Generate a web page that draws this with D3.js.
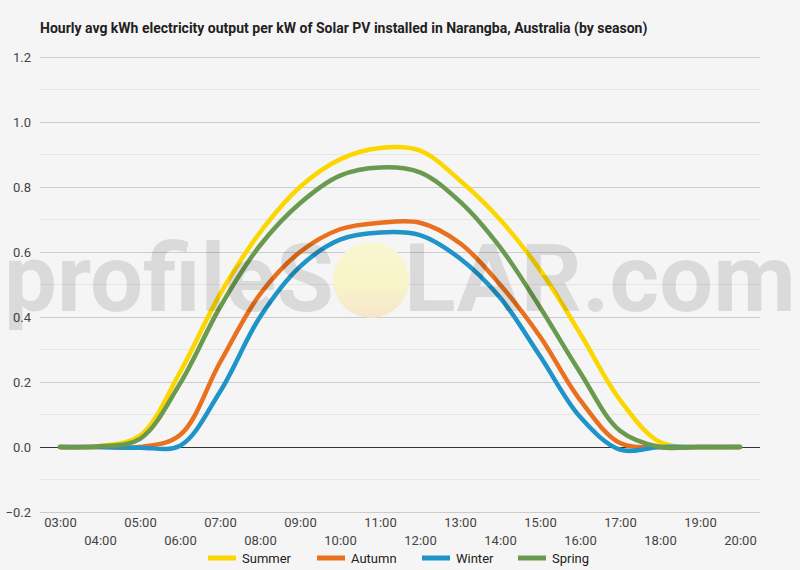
<!DOCTYPE html>
<html>
<head>
<meta charset="utf-8">
<script src="https://cdn.jsdelivr.net/npm/d3@7"></script>
<style>
  body { margin: 0; background: #f5f5f5; }
  svg { display: block; font-family: Roboto, "Noto Sans", sans-serif; }
</style>
</head>
<body>
<svg id="chart" width="800" height="570"></svg>
<script>
// hours on the x axis
var hours = ['03:00', '04:00', '05:00', '06:00', '07:00', '08:00', '09:00', '10:00', '11:00',
    '12:00', '13:00', '14:00', '15:00', '16:00', '17:00', '18:00', '19:00', '20:00'];

// avg kWh per kW installed, one value per hour
var summer = [0, 0.003, 0.035, 0.23, 0.47, 0.66, 0.80, 0.885, 0.92, 0.912, 0.82, 0.70, 0.545, 0.35, 0.145, 0.015, 0, 0];
var autumn = [0, 0, 0, 0.037, 0.26, 0.47, 0.60, 0.67, 0.69, 0.69, 0.627, 0.50, 0.34, 0.145, 0.012, 0, 0, 0];
var winter = [0, 0, -0.002, 0.004, 0.17, 0.40, 0.555, 0.638, 0.66, 0.652, 0.58, 0.46, 0.28, 0.093, -0.008, 0, 0, 0];
var spring = [0, 0.002, 0.025, 0.195, 0.43, 0.62, 0.75, 0.835, 0.86, 0.845, 0.755, 0.615, 0.43, 0.23, 0.05, 0, 0, 0];

var seriesNames = ['Summer', 'Autumn', 'Winter', 'Spring'];
var seriesValues = [summer, autumn, winter, spring];
var seriesColors = ['#fcd600', '#e8701e', '#1f94c8', '#6a9a4f'];

var yTicks = [-0.2, 0, 0.2, 0.4, 0.6, 0.8, 1.0, 1.2];
var yMinorTicks = [-0.1, 0.1, 0.3, 0.5, 0.7, 0.9, 1.1];

var svg = d3.select('#chart');
var svgWidth = +svg.attr('width');
var svgHeight = +svg.attr('height');

var padding = {t: 57, r: 40, b: 58, l: 40};
var chartWidth = svgWidth - padding.l - padding.r;
var chartHeight = svgHeight - padding.t - padding.b;

svg.append('rect')
    .attr('width', svgWidth)
    .attr('height', svgHeight)
    .attr('fill', '#f5f5f5');

// title
svg.append('text')
    .attr('x', 40)
    .attr('y', 33)
    .attr('font-size', '14px')
    .attr('font-weight', 'bold')
    .attr('fill', '#222')
    .text('Hourly avg kWh electricity output per kW of Solar PV installed in Narangba, Australia (by season)');

var chartG = svg.append('g')
    .attr('transform', 'translate(' + [padding.l, padding.t] + ')');

var xScale = d3.scalePoint()
    .domain(hours)
    .range([0, chartWidth])
    .padding(0.5);

var yScale = d3.scaleLinear()
    .domain([-0.2, 1.2])
    .range([chartHeight, 0]);

// minor gridlines
chartG.selectAll('.minor')
    .data(yMinorTicks)
    .enter().append('line')
    .attr('class', 'minor')
    .attr('x1', 0).attr('x2', chartWidth)
    .attr('y1', function(d) { return yScale(d); })
    .attr('y2', function(d) { return yScale(d); })
    .attr('stroke', '#e6e6e6')
    .attr('stroke-width', 1);

// major gridlines
var yGrid = d3.axisLeft(yScale)
    .tickValues(yTicks)
    .tickSize(-chartWidth)
    .tickFormat('');
var yGridG = chartG.append('g').call(yGrid);
yGridG.select('.domain').remove();
yGridG.selectAll('line')
    .attr('stroke', function(d) { return d === 0 ? '#333' : '#cccccc'; });

// lines
var line = d3.line()
    .x(function(d, i) { return xScale(hours[i]); })
    .y(function(d) { return yScale(d); })
    .curve(d3.curveCatmullRom.alpha(0.5));

chartG.selectAll('.series')
    .data(seriesValues)
    .enter().append('path')
    .attr('class', 'series')
    .attr('d', function(d) { return line(d); })
    .attr('fill', 'none')
    .attr('stroke', function(d, i) { return seriesColors[i]; })
    .attr('stroke-width', 4.5)
    .attr('stroke-linecap', 'round');

// watermark
var defs = svg.append('defs');
var grad = defs.append('linearGradient')
    .attr('id', 'sun')
    .attr('x1', 0).attr('y1', 0).attr('x2', 0).attr('y2', 1);
grad.append('stop').attr('offset', '0%').attr('stop-color', '#f9f7d2');
grad.append('stop').attr('offset', '55%').attr('stop-color', '#f8f4c8');
grad.append('stop').attr('offset', '100%').attr('stop-color', '#f6e6cc');

svg.append('circle')
    .attr('cx', 371)
    .attr('cy', 280)
    .attr('r', 38)
    .attr('fill', 'url(#sun)');

var wm = svg.append('g')
    .attr('font-size', '94px')
    .attr('font-weight', 'bold')
    .attr('fill', '#000')
    .attr('fill-opacity', 0.11);
wm.append('text')
    .attr('x', 4)
    .attr('y', 311)
    .attr('textLength', 330)
    .attr('lengthAdjust', 'spacingAndGlyphs')
    .text('profileS');
wm.append('text')
    .attr('x', 404)
    .attr('y', 311)
    .attr('textLength', 392)
    .attr('lengthAdjust', 'spacingAndGlyphs')
    .text('LAR.com');

// y axis labels
var yAxis = d3.axisLeft(yScale)
    .tickValues(yTicks)
    .tickSize(0)
    .tickPadding(9)
    .tickFormat(d3.format('.1f'));
var yAxisG = chartG.append('g').call(yAxis);
yAxisG.select('.domain').remove();
yAxisG.selectAll('text')
    .attr('font-size', '13px')
    .attr('font-family', 'Roboto, sans-serif')
    .attr('fill', '#444');

// x axis labels, staggered on two rows
var xAxis = d3.axisBottom(xScale).tickSize(0).tickPadding(0);
var xAxisG = chartG.append('g')
    .attr('transform', 'translate(0,' + chartHeight + ')')
    .call(xAxis);
xAxisG.select('.domain').remove();
xAxisG.selectAll('text')
    .attr('font-size', '13px')
    .attr('font-family', 'Roboto, sans-serif')
    .attr('fill', '#444')
    .attr('dy', null)
    .attr('y', function(d, i) { return i % 2 === 0 ? 15 : 33; });

// legend
var legendX = [208, 317, 422, 518];
var legend = svg.append('g');
var items = legend.selectAll('g')
    .data(seriesNames)
    .enter().append('g')
    .attr('transform', function(d, i) { return 'translate(' + [legendX[i], 558] + ')'; });
items.append('line')
    .attr('x1', 0).attr('x2', 28)
    .attr('stroke', function(d, i) { return seriesColors[i]; })
    .attr('stroke-width', 5);
items.append('text')
    .attr('x', 34)
    .attr('dy', '0.35em')
    .attr('font-size', '13px')
    .attr('fill', '#222')
    .text(function(d) { return d; });
</script>
</body>
</html>
